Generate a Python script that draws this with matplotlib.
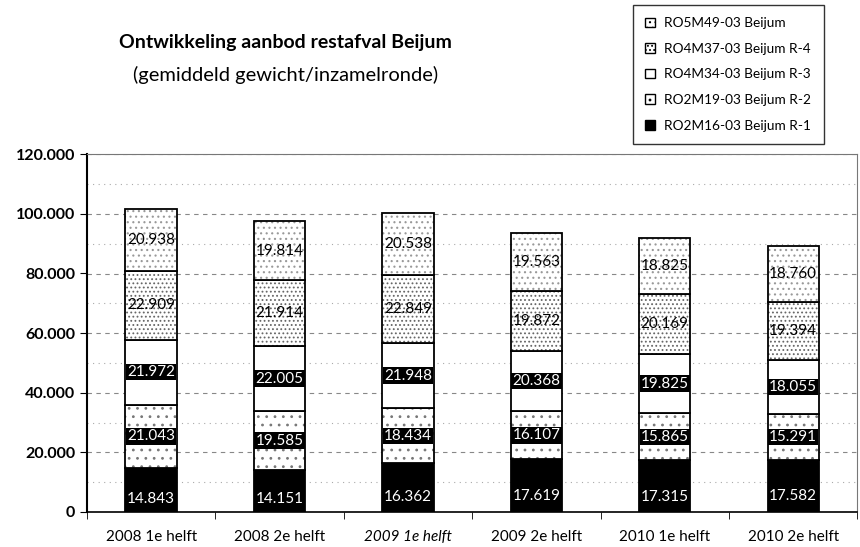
import numpy as np
import matplotlib
matplotlib.use("Agg")
import matplotlib.pyplot as plt
from matplotlib.patches import Patch
from matplotlib.ticker import FuncFormatter, MultipleLocator

plt.rcParams['font.family'] = ['Lato', 'DejaVu Sans']
plt.rcParams['hatch.linewidth'] = 0.8

periods = ['2008 1e helft', '2008 2e helft', '2009 1e helft',
           '2009 2e helft', '2010 1e helft', '2010 2e helft']
series_names = ['RO2M16-03 Beijum R-1', 'RO2M19-03 Beijum R-2',
                'RO4M34-03 Beijum R-3', 'RO4M37-03 Beijum R-4',
                'RO5M49-03 Beijum']
r1 = [14843, 14151, 16362, 17619, 17315, 17582]
r2 = [21043, 19585, 18434, 16107, 15865, 15291]
r3 = [21972, 22005, 21948, 20368, 19825, 18055]
r4 = [22909, 21914, 22849, 19872, 20169, 19394]
r5 = [20938, 19814, 20538, 19563, 18825, 18760]

# fill, hatch, hatch colour, text colour, black label box
styles = [
    ('black', None, 'black', 'white', False),
    ('white', '..', '#777777', 'white', True),
    ('white', None, 'black', 'white', True),
    ('white', '....', '#666666', 'black', False),
    ('white', '...', '#999999', 'black', False),
]

fig = plt.figure(figsize=(8.6, 5.47), dpi=100)
ax = fig.add_axes([0.101, 0.064, 0.896, 0.654])

x = np.arange(len(periods))
bottom = np.zeros(len(periods))
handles = []
for vals, name, (fc, hatch, hc, tc, boxed) in zip([r1, r2, r3, r4, r5], series_names, styles):
    vals = np.array(vals, dtype=float)
    ax.bar(x, vals, 0.40, bottom=bottom, color=fc, edgecolor=hc,
           hatch=hatch, linewidth=0, zorder=3)
    ax.bar(x, vals, 0.40, bottom=bottom, fill=False, edgecolor='black',
           linewidth=1.3, zorder=3)
    handles.append(Patch(facecolor=fc, edgecolor='black', hatch=hatch, linewidth=1.0))
    for xi, b, v in zip(x, bottom, vals):
        s = f'{int(v):,}'.replace(',', '.')
        kw = {}
        if boxed:
            kw['bbox'] = dict(boxstyle='square,pad=0.08', fc='black', ec='none')
        y = b + v / 2 if tc == 'black' or boxed else b + v * 0.3
        ax.text(xi, y, s, ha='center', va='center', fontsize=11, color=tc,
                zorder=4, **kw)
    bottom += vals

ax.set_xlim(-0.5, len(periods) - 0.5)
ax.set_ylim(0, 120000)
ax.yaxis.set_major_locator(MultipleLocator(20000))
ax.yaxis.set_minor_locator(MultipleLocator(10000))
ax.yaxis.set_major_formatter(FuncFormatter(lambda v, p: f'{int(v):,}'.replace(',', '.')))
ax.grid(axis='y', which='major', color='#888888', linestyle=(0, (4, 4)), linewidth=0.8, zorder=0)
ax.grid(axis='y', which='minor', color='#aaaaaa', linestyle=(0, (1, 4)), linewidth=0.8, zorder=0)
ax.tick_params(axis='y', which='minor', length=0)
ax.tick_params(axis='y', labelsize=11.5, length=5)
for lbl in ax.get_yticklabels():
    lbl.set_fontweight('bold')

ax.set_xticks(np.arange(len(periods) + 1) - 0.5, minor=True)
ax.set_xticks(x)
ax.set_xticklabels(periods, fontsize=11)
ax.get_xticklabels()[2].set_fontstyle('italic')
ax.tick_params(axis='x', which='major', length=0, pad=13)
ax.tick_params(axis='x', which='minor', length=5)

for side in ['top', 'right']:
    ax.spines[side].set_color('#777777')
    ax.spines[side].set_linestyle((0, (1, 1)))
ax.spines['left'].set_linewidth(1.5)
ax.spines['bottom'].set_linewidth(1.2)

fig.text(0.332, 0.923, 'Ontwikkeling aanbod restafval Beijum', ha='center', va='center',
         fontsize=14, fontweight='bold')
fig.text(0.332, 0.863, '(gemiddeld gewicht/inzamelronde)', ha='center', va='center',
         fontsize=14.5)

leg = fig.legend(handles[::-1], series_names[::-1], loc='upper left',
                 bbox_to_anchor=(0.736, 0.991), borderaxespad=0, fontsize=9.8,
                 frameon=True, fancybox=False, edgecolor='black',
                 handlelength=0.7, handleheight=0.7, labelspacing=1.0,
                 borderpad=0.9, handletextpad=0.7)
leg.get_frame().set_linewidth(1.0)

fig.savefig('out.png', dpi=100)
